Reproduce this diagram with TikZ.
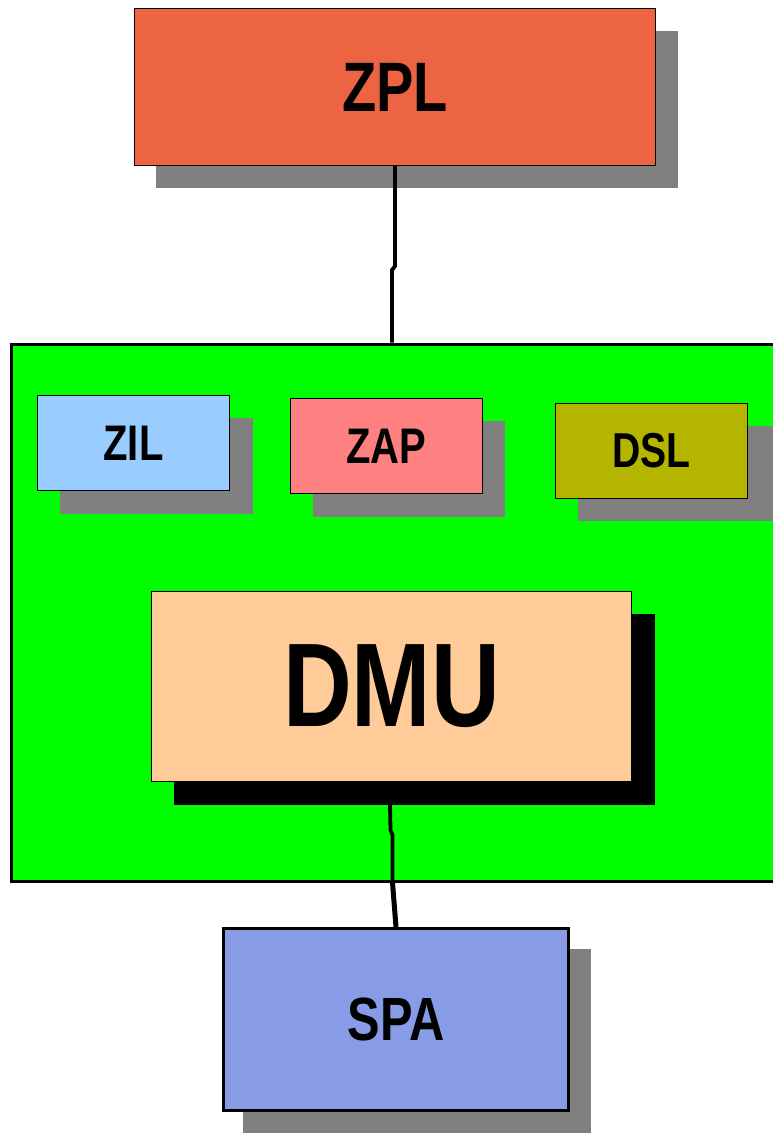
\documentclass[tikz,border=0pt]{standalone}
\usepackage{fontspec}
\newfontfamily\labfont{Liberation Sans}[FakeStretch=0.8]
\definecolor{zplred}{RGB}{236,100,66}
\definecolor{zilblue}{RGB}{153,204,255}
\definecolor{zappink}{RGB}{255,128,128}
\definecolor{dslolive}{RGB}{181,181,0}
\definecolor{dmupeach}{RGB}{255,204,153}
\definecolor{spablue}{RGB}{136,155,230}
\definecolor{shadowgray}{RGB}{128,128,128}
\definecolor{panelgreen}{RGB}{0,255,0}
\tikzset{
  box/.style={draw=black, line width=1pt, inner sep=0pt, anchor=north west, font=\labfont\bfseries},
  conn/.style={draw=black, line width=3.8pt},
  lab/.style={font=\labfont\bfseries\fontsize{#1}{#1}\selectfont}
}
\begin{document}
\begin{tikzpicture}[x=1pt, y=-1pt]
\useasboundingbox (0,0) rectangle (772,1133);

% main panel
\node[draw=black, line width=3pt, fill=panelgreen, inner sep=0pt, anchor=north west,
      minimum width=780pt, minimum height=537pt] (main) at (9.5,342.5) {};

% drop shadows
\fill[shadowgray] (156,31) rectangle (678,188);
\fill[shadowgray] (60,418) rectangle (253,514);
\fill[shadowgray] (313,421) rectangle (505,517);
\fill[shadowgray] (578,426) rectangle (775,521);
\fill[black] (174,614) rectangle (655,805);
\fill[shadowgray] (243,949) rectangle (591,1135);

% top block and its link into the panel
\node[box, fill=zplred, minimum width=521pt, minimum height=157pt, lab=70] (zpl) at (134,8) {ZPL};
\draw[conn] (zpl.south) -- ++(0,100) -- ++(-3,4) coordinate (k1) -- (k1 |- main.north);

% inner blocks
\node[box, fill=zilblue, minimum width=192pt, minimum height=95pt, lab=50] (zil) at (37,395) {ZIL};
\node[box, fill=zappink, minimum width=192pt, minimum height=95pt, lab=50] (zap) at (290,398) {ZAP};
\node[box, fill=dslolive, minimum width=192pt, minimum height=95pt, lab=49] (dsl) at (555,403) {DSL};

\node[box, fill=dmupeach, minimum width=480pt, minimum height=190pt, lab=119] (dmu) at (151,591) {DMU};

\node[box, fill=spablue, line width=3pt, minimum width=345pt, minimum height=182pt, lab=61] (spa) at (222,927) {SPA};

% DMU to SPA link, leaving from under the DMU shadow
\draw[conn] (390,805) -- (390.5,830) -- (392.5,835) coordinate (k2) -- (k2 |- main.south);
\draw[conn, line width=5pt] (k2 |- main.south) -- (spa.north);
\end{tikzpicture}
\end{document}
